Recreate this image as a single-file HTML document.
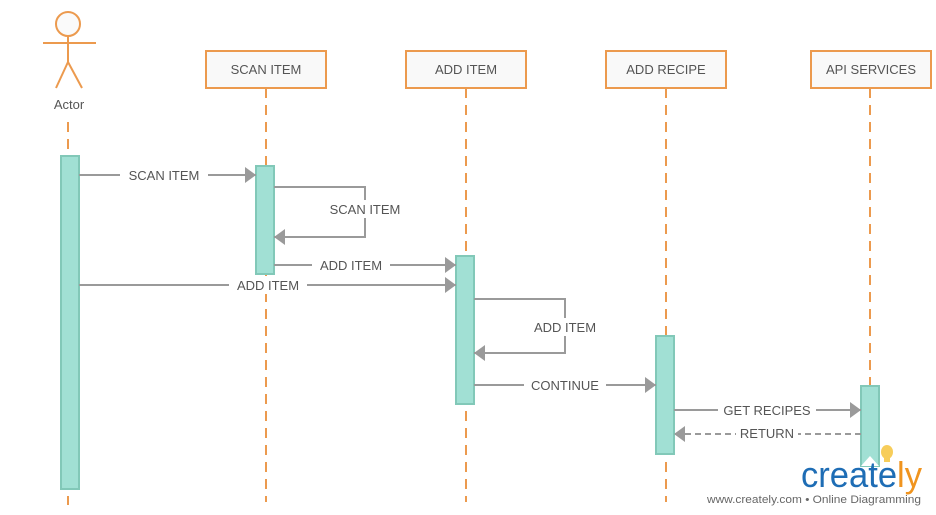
<!DOCTYPE html>
<html><head><meta charset="utf-8"><style>
html,body{margin:0;padding:0;background:#fff;}
svg{display:block;}
text{font-family:"Liberation Sans",sans-serif;fill:#555;}
</style></head><body>
<svg width="936" height="515" viewBox="0 0 936 515" xmlns="http://www.w3.org/2000/svg">
<defs>
<marker id="ah" markerWidth="11" markerHeight="16" refX="11" refY="8" orient="auto" markerUnits="userSpaceOnUse">
<path d="M0,0 L11,8 L0,16 Z" fill="#9a9a9a"/></marker>
</defs>
<!-- actor -->
<g stroke="#ec9a4e" stroke-width="2" fill="none">
<circle cx="68" cy="24" r="12" fill="#fafafa"/>
<line x1="68" y1="36" x2="68" y2="62"/>
<line x1="43" y1="43" x2="96" y2="43"/>
<line x1="68" y1="62" x2="56" y2="88"/>
<line x1="68" y1="62" x2="82" y2="88"/>
</g>
<text x="69" y="109" font-size="13" text-anchor="middle">Actor</text>
<!-- lifelines -->
<g stroke="#ec9a4e" stroke-width="2" stroke-dasharray="10,7">
<line x1="68" y1="122" x2="68" y2="505"/>
<line x1="266" y1="88" x2="266" y2="502"/>
<line x1="466" y1="88" x2="466" y2="502"/>
<line x1="666" y1="88" x2="666" y2="502"/>
<line x1="870" y1="88" x2="870" y2="440"/>
</g>
<!-- boxes -->
<g stroke="#ec9a4e" stroke-width="2" fill="#f9f9f9">
<rect x="206" y="51" width="120" height="37"/>
<rect x="406" y="51" width="120" height="37"/>
<rect x="606" y="51" width="120" height="37"/>
<rect x="811" y="51" width="120" height="37"/>
</g>
<g font-size="13" text-anchor="middle">
<text x="266" y="74">SCAN ITEM</text>
<text x="466" y="74">ADD ITEM</text>
<text x="666" y="74">ADD RECIPE</text>
<text x="871" y="74">API SERVICES</text>
</g>
<!-- activations -->
<g fill="#a1e0d4" stroke="#82c8b8" stroke-width="2">
<rect x="61" y="156" width="18" height="333"/>
<rect x="256" y="166" width="18" height="108"/>
<rect x="456" y="256" width="18" height="148"/>
<rect x="656" y="336" width="18" height="118"/>
<rect x="861" y="386" width="18" height="80"/>
</g>
<!-- messages -->
<g stroke="#9a9a9a" stroke-width="2" fill="none">
<line x1="79" y1="175" x2="256" y2="175" marker-end="url(#ah)"/>
<polyline points="274,187 365,187 365,237 274,237" marker-end="url(#ah)"/>
<line x1="274" y1="265" x2="456" y2="265" marker-end="url(#ah)"/>
<line x1="79" y1="285" x2="456" y2="285" marker-end="url(#ah)"/>
<polyline points="474,299 565,299 565,353 474,353" marker-end="url(#ah)"/>
<line x1="474" y1="385" x2="656" y2="385" marker-end="url(#ah)"/>
<line x1="674" y1="410" x2="861" y2="410" marker-end="url(#ah)"/>
<line x1="861" y1="434" x2="674" y2="434" stroke-dasharray="6,4" marker-end="url(#ah)"/>
</g>
<!-- labels with white bg -->
<g fill="#fff">
<rect x="120" y="166" width="88" height="18"/>
<rect x="324" y="200" width="82" height="18"/>
<rect x="312" y="256" width="78" height="18"/>
<rect x="229" y="276" width="78" height="18"/>
<rect x="526" y="318" width="78" height="18"/>
<rect x="524" y="376" width="82" height="18"/>
<rect x="718" y="401" width="98" height="18"/>
<rect x="736" y="425" width="62" height="17"/>
</g>
<g font-size="13" text-anchor="middle">
<text x="164" y="180">SCAN ITEM</text>
<text x="365" y="214">SCAN ITEM</text>
<text x="351" y="270">ADD ITEM</text>
<text x="268" y="290">ADD ITEM</text>
<text x="565" y="332">ADD ITEM</text>
<text x="565" y="390">CONTINUE</text>
<text x="767" y="415">GET RECIPES</text>
<text x="767" y="438">RETURN</text>
</g>
<!-- logo -->
<polygon points="861,466 870,456 879,466" fill="#fff"/>
<ellipse cx="887" cy="452" rx="6" ry="7" fill="#f7cd5a"/>
<rect x="884" y="458" width="6" height="4" fill="#f7cd5a"/>
<text x="801" y="487" font-size="36" textLength="121" lengthAdjust="spacingAndGlyphs" style="fill:#1e6db5">create<tspan style="fill:#f0941f">ly</tspan></text>
<text x="707" y="503" font-size="11" textLength="214" lengthAdjust="spacingAndGlyphs" style="fill:#666">www.creately.com • Online Diagramming</text>
</svg>
</body></html>
